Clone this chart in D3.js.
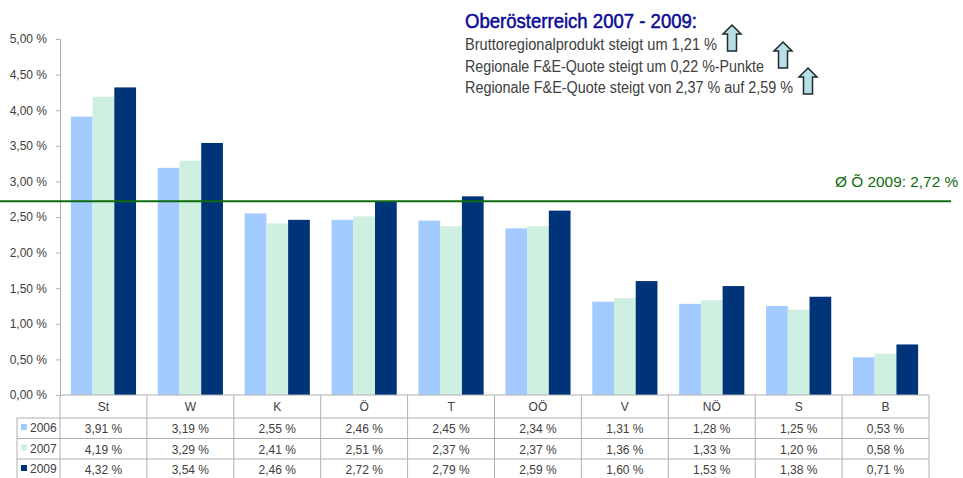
<!DOCTYPE html>
<html>
<head>
<meta charset="utf-8">
<script src="https://cdn.jsdelivr.net/npm/d3@7"></script>
<style>
  html, body { margin: 0; padding: 0; background: #fff; }
  svg { display: block; font-family: "Liberation Sans", Arial, sans-serif; }
</style>
</head>
<body>
<svg id="chart" width="963" height="478"></svg>
<script>
var regions = ["St", "W", "K", "Ö", "T", "OÖ", "V", "NÖ", "S", "B"];
var years = ["2006", "2007", "2009"];
var values2006 = [3.91, 3.19, 2.55, 2.46, 2.45, 2.34, 1.31, 1.28, 1.25, 0.53];
var values2007 = [4.19, 3.29, 2.41, 2.51, 2.37, 2.37, 1.36, 1.33, 1.20, 0.58];
var values2009 = [4.32, 3.54, 2.46, 2.72, 2.79, 2.59, 1.60, 1.53, 1.38, 0.71];
var yTicks = [0, 0.5, 1, 1.5, 2, 2.5, 3, 3.5, 4, 4.5, 5];
var average = 2.72;
var averageLabel = "Ø Õ 2009: 2,72 %";
var title = "Oberösterreich 2007 - 2009:";
var notes = [
    "Bruttoregionalprodukt steigt um 1,21 %",
    "Regionale F&E-Quote steigt um 0,22 %-Punkte",
    "Regionale F&E-Quote steigt von 2,37 % auf 2,59 %"
];
var seriesValues = [values2006, values2007, values2009];
var colors = ["#a3cbff", "#cff0e0", "#003478"];

function pct(v) {
    return v.toFixed(2).replace(".", ",") + " %";
}

var svg = d3.select("#chart");
var margin = { top: 39, right: 34, bottom: 83, left: 60 };
var width = 963 - margin.left - margin.right;
var height = 478 - margin.top - margin.bottom;
var textColor = "#404040";
var lineColor = "#b0b0b0";

var x = d3.scaleBand()
    .domain(regions)
    .range([0, width])
    .paddingInner(0.25)
    .paddingOuter(0.125);

var xCell = d3.scaleBand().domain(regions).range([0, width]);

var xBar = d3.scaleBand()
    .domain(years)
    .range([0, x.bandwidth()]);

var y = d3.scaleLinear().domain([0, 5]).range([height, 0]);

var g = svg.append("g")
    .attr("transform", "translate(" + margin.left + "," + margin.top + ")");

// Bars
years.forEach(function (year, i) {
    g.selectAll(".bar" + year)
        .data(seriesValues[i])
        .enter().append("rect")
        .attr("class", "bar" + year)
        .attr("x", (d, j) => x(regions[j]) + xBar(year))
        .attr("y", d => y(d))
        .attr("width", xBar.bandwidth())
        .attr("height", d => height - y(d))
        .attr("fill", colors[i]);
});

// Y axis
var yAxis = g.append("g")
    .call(d3.axisLeft(y).tickValues(yTicks).tickFormat(pct).tickSize(4).tickPadding(9));
yAxis.selectAll("path, line").attr("stroke", lineColor);
yAxis.selectAll("text")
    .attr("fill", textColor)
    .style("font-size", "12px");

// Average line
g.append("line")
    .attr("x1", -60)
    .attr("x2", 951 - margin.left)
    .attr("y1", y(average))
    .attr("y2", y(average))
    .attr("stroke", "#0f6b0f")
    .attr("stroke-width", 2);

svg.append("text")
    .attr("x", 835)
    .attr("y", 187)
    .attr("fill", "#0f6b0f")
    .style("font-size", "15.4px")
    .text(averageLabel);

// Data table under the plot
var rowY = [0, 23, 43.5, 64, 83];
var table = g.append("g").attr("stroke", lineColor).attr("stroke-width", 1).attr("fill", "none");

table.selectAll(".vline")
    .data(regions.concat(["end"]))
    .enter().append("line")
    .attr("x1", (d, i) => i * xCell.bandwidth())
    .attr("x2", (d, i) => i * xCell.bandwidth())
    .attr("y1", height)
    .attr("y2", height + rowY[4]);

table.append("line")
    .attr("x1", 0).attr("x2", width)
    .attr("y1", height).attr("y2", height);

rowY.slice(1, 4).forEach(function (r) {
    table.append("line")
        .attr("x1", 17 - margin.left).attr("x2", width)
        .attr("y1", height + r).attr("y2", height + r);
});

table.append("line")
    .attr("x1", 17 - margin.left).attr("x2", 17 - margin.left)
    .attr("y1", height + rowY[1]).attr("y2", height + rowY[4]);

g.selectAll(".catLabel")
    .data(regions)
    .enter().append("text")
    .attr("class", "catLabel")
    .attr("x", d => xCell(d) + xCell.bandwidth() / 2)
    .attr("y", height + 16)
    .attr("text-anchor", "middle")
    .attr("fill", textColor)
    .style("font-size", "12px")
    .text(d => d);

years.forEach(function (year, i) {
    var baseline = height + rowY[i + 1] + 15;
    g.append("rect")
        .attr("x", 21 - margin.left)
        .attr("y", baseline - 9)
        .attr("width", 6)
        .attr("height", 6)
        .attr("fill", colors[i]);
    g.append("text")
        .attr("x", 30 - margin.left)
        .attr("y", baseline - 1)
        .attr("fill", textColor)
        .style("font-size", "12px")
        .text(year);
    g.selectAll(".cell" + year)
        .data(seriesValues[i])
        .enter().append("text")
        .attr("class", "cell" + year)
        .attr("x", (d, j) => xCell(regions[j]) + xCell.bandwidth() / 2)
        .attr("y", baseline)
        .attr("text-anchor", "middle")
        .attr("fill", textColor)
        .style("font-size", "12px")
        .text(pct);
});

// Headline text
svg.append("text")
    .attr("x", 465)
    .attr("y", 28)
    .attr("textLength", 232)
    .attr("lengthAdjust", "spacingAndGlyphs")
    .attr("fill", "#0a0a96")
    .attr("stroke", "#0a0a96")
    .attr("stroke-width", 0.5)
    .style("font-size", "20px")
    .text(title);

var noteY = [50, 72, 93];
var noteLen = [252, 299, 328];
svg.selectAll(".note")
    .data(notes)
    .enter().append("text")
    .attr("class", "note")
    .attr("x", 465)
    .attr("y", (d, i) => noteY[i])
    .attr("textLength", (d, i) => noteLen[i])
    .attr("lengthAdjust", "spacingAndGlyphs")
    .attr("fill", textColor)
    .style("font-size", "16px")
    .text(d => d);

// Up arrows next to the notes
var arrowPos = [[732, 25], [783, 42], [808, 68]];
svg.selectAll(".arrow")
    .data(arrowPos)
    .enter().append("path")
    .attr("class", "arrow")
    .attr("transform", d => "translate(" + d[0] + "," + d[1] + ")")
    .attr("d", "M0,0L9,9L4.5,9L4.5,26L-4.5,26L-4.5,9L-9,9Z")
    .attr("fill", "#b9dfe6")
    .attr("stroke", "#1f2a2c")
    .attr("stroke-width", 1.5);
</script>
</body>
</html>
